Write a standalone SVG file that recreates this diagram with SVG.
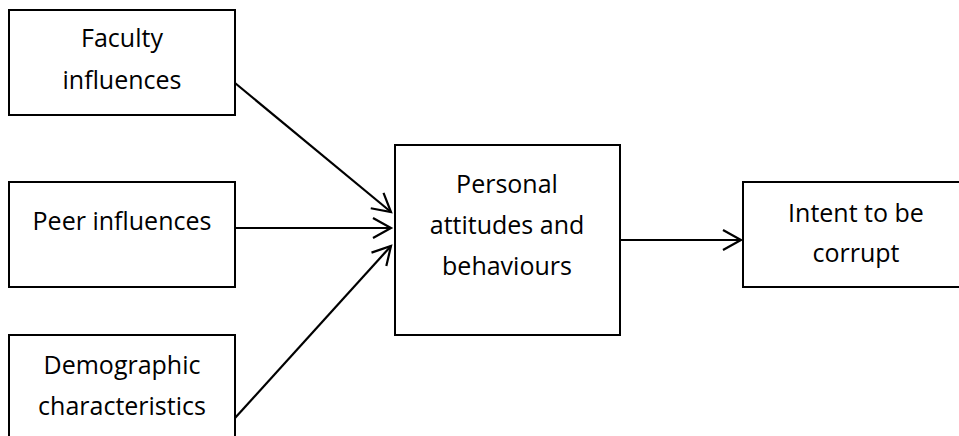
<svg xmlns="http://www.w3.org/2000/svg" width="959" height="436" viewBox="0 0 959 436">
<defs>
<marker id="arr" markerUnits="userSpaceOnUse" markerWidth="24" markerHeight="24" refX="20" refY="12" orient="auto" viewBox="0 0 24 24">
<path d="M2,2 L20,12 L2,22" fill="none" stroke="#000" stroke-width="2.2"/>
</marker>
</defs>
<style>
.box{fill:#fff;stroke:#000;stroke-width:2}
.t{font-family:"Open Sans","Liberation Sans",sans-serif;font-size:25px;fill:#000;text-anchor:middle}
.c{stroke:#000;stroke-width:2.2;fill:none;marker-end:url(#arr)}
</style>
<rect width="959" height="436" fill="#fff"/>
<g id="connectors">
<line class="c" x1="235" y1="83" x2="391" y2="212"/>
<line class="c" x1="235" y1="228" x2="391" y2="228"/>
<line class="c" x1="235" y1="418" x2="391" y2="246"/>
<line class="c" x1="620" y1="240" x2="741" y2="240"/>
</g>
<g id="faculty">
<rect class="box" x="9" y="10" width="226" height="105"/>
<text class="t" x="122" y="47">Faculty</text>
<text class="t" x="122" y="89">influences</text>
</g>
<g id="peer">
<rect class="box" x="9" y="182" width="226" height="105"/>
<text class="t" x="122" y="230">Peer influences</text>
</g>
<g id="demographic">
<rect class="box" x="9" y="335" width="226" height="110"/>
<text class="t" x="122" y="374">Demographic</text>
<text class="t" x="122" y="415">characteristics</text>
</g>
<g id="personal">
<rect class="box" x="395" y="145" width="225" height="190"/>
<text class="t" x="507" y="193">Personal</text>
<text class="t" x="507" y="234">attitudes and</text>
<text class="t" x="507" y="275">behaviours</text>
</g>
<g id="intent">
<rect class="box" x="743" y="182" width="225" height="105"/>
<text class="t" x="856" y="222">Intent to be</text>
<text class="t" x="856" y="262">corrupt</text>
</g>
</svg>
